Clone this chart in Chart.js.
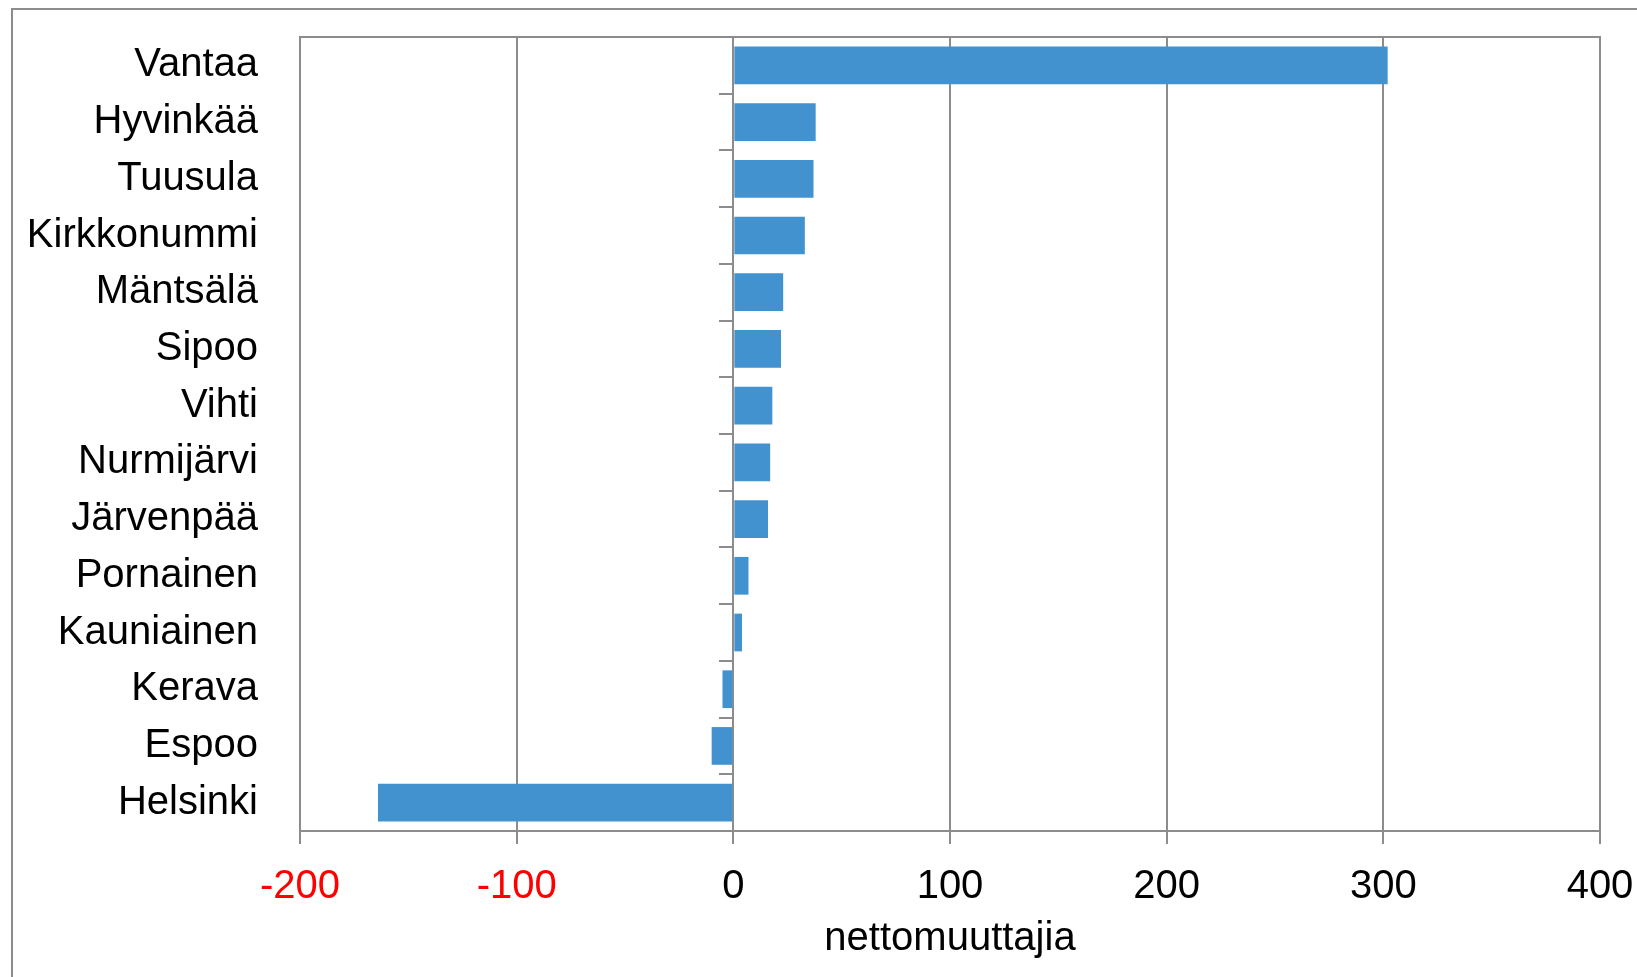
<!DOCTYPE html>
<html>
<head>
<meta charset="utf-8">
<script src="https://cdn.jsdelivr.net/npm/chart.js@4"></script>
<style>
  body { margin: 0; background: #fff; overflow: hidden; }
  #frame { position: absolute; left: 11px; top: 8px; width: 2000px; height: 2000px; border: 2px solid #8c8c8c; }
  #chart { position: absolute; left: 0; top: 0; }
</style>
</head>
<body>
<div id="frame"></div>
<canvas id="chart" width="1637" height="977"></canvas>
<script>
// municipalities, top to bottom
const municipalities = ['Vantaa', 'Hyvinkää', 'Tuusula', 'Kirkkonummi', 'Mäntsälä', 'Sipoo', 'Vihti',
    'Nurmijärvi', 'Järvenpää', 'Pornainen', 'Kauniainen', 'Kerava', 'Espoo', 'Helsinki'];
// net migration
const netMigration = [302, 38, 37, 33, 23, 22, 18, 17, 16, 7, 4, -5, -10, -164];
const xMin = -200;
const xMax = 400;
const xStep = 100;
const xTitle = 'nettomuuttajia';

const gray = '#8c8c8c';
const font = { family: "'Liberation Sans', Arial, sans-serif", size: 40, lineHeight: 1 };

const ctx = document.getElementById('chart').getContext('2d');
new Chart(ctx, {
    type: 'bar',
    data: {
        labels: municipalities,
        datasets: [{
            data: netMigration,
            backgroundColor: '#4292d0',
            borderWidth: 0,
            barPercentage: 0.665,
            categoryPercentage: 1
        }]
    },
    options: {
        indexAxis: 'y',
        responsive: false,
        animation: false,
        devicePixelRatio: 1,
        layout: { padding: { top: 37, right: 37, left: 0, bottom: 0 } },
        plugins: { legend: { display: false }, tooltip: { enabled: false } },
        scales: {
            x: {
                type: 'linear',
                position: 'bottom',
                min: xMin,
                max: xMax,
                ticks: {
                    stepSize: xStep,
                    font: font,
                    padding: 23,
                    color: (c) => c.tick && c.tick.value < 0 ? '#ff0000' : '#000000'
                },
                grid: { color: gray, lineWidth: 2, tickLength: 13 },
                border: { color: gray, width: 2 },
                title: { display: true, text: xTitle, font: font, color: '#000', padding: { top: 2, bottom: 18 } },
                afterFit: (s) => { s.height = 146; s.paddingLeft = 0; s.paddingRight = 0; }
            },
            xTop: {
                type: 'linear',
                position: 'top',
                min: xMin,
                max: xMax,
                ticks: { display: false },
                grid: { drawOnChartArea: false, drawTicks: false },
                border: { color: gray, width: 2 },
                afterFit: (s) => { s.height = 0; s.paddingLeft = 0; s.paddingRight = 0; }
            },
            y: {
                type: 'category',
                position: 'left',
                ticks: { font: font, color: '#000', padding: 42 },
                grid: { display: false, drawTicks: false },
                border: { color: gray, width: 2 },
                afterFit: (s) => { s.width = 300; s.paddingTop = 0; s.paddingBottom = 0; }
            },
            yZero: {
                type: 'category',
                position: { x: 0 },
                labels: municipalities,
                offset: true,
                ticks: { display: false },
                grid: { offset: true, drawOnChartArea: false, tickLength: 13, color: gray, lineWidth: 2 },
                border: { color: gray, width: 2 },
                afterFit: (s) => { s.paddingTop = 0; s.paddingBottom = 0; }
            }
        }
    }
});
</script>
</body>
</html>
